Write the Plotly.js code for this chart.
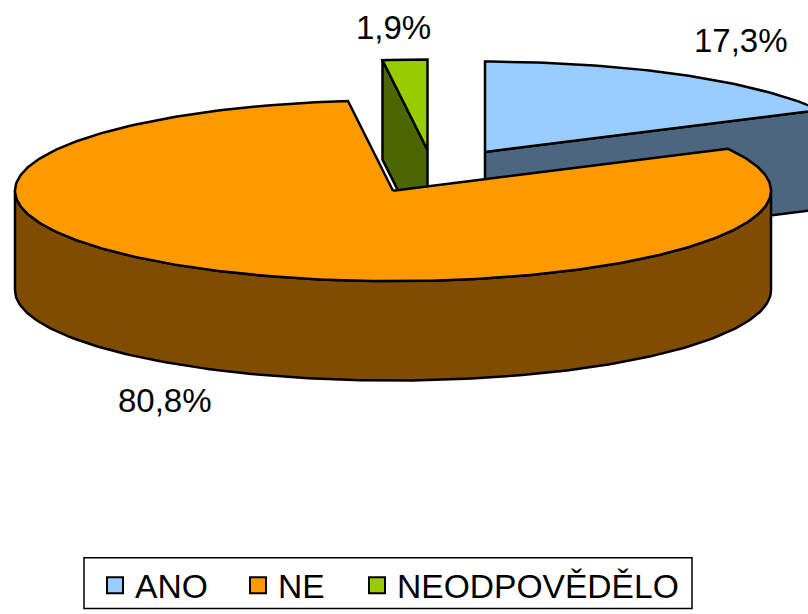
<!DOCTYPE html>
<html><head><meta charset="utf-8">
<script src="https://cdn.plot.ly/plotly-3.0.1.min.js"></script>
<style>html,body{margin:0;padding:0;background:#fff}#c{width:808px;height:614px}</style>
</head><body><div id="c"></div>
<script>
// Data
const categories = ["ANO", "NE", "NEODPOVĚDĚLO"];
const shares = [17.3, 80.8, 1.9];
// Styles
const topColors = ["#99CCFF", "#FF9900", "#99CC00"];
const wallColors = ["#4D6680", "#804D00", "#4D6600"];
// Projection of the tilted pie, in axis units (the axes span the 808x614 page)
const RX = 378, RY = 91, DEPTH = 100;
const centreX = [485, 393, 427.5];
const centreY = [153, 192, 151];
const labelX = [741, 165, 393];
const labelY = [41, 403, 28];
const legendX = [95, 238, 357];
const drawOrder = [0, 2, 1];

const total = shares.reduce((a, b) => a + b, 0);
const rad = d => d * Math.PI / 180;
let run = 0;
const spans = shares.map(v => { const a0 = run; run += v / total * 360; return [a0, run]; });

function rim(i, a, dz) {
  return [centreX[i] + RX * Math.sin(rad(a)), centreY[i] - RY * Math.cos(rad(a)) + dz];
}
function arc(i, a0, a1, dz) {
  const pts = [], n = Math.max(2, Math.ceil(Math.abs(a1 - a0)));
  for (let k = 0; k <= n; k++) pts.push(rim(i, a0 + (a1 - a0) * k / n, dz));
  return pts;
}
function poly(pts, fill) {
  const xs = pts.map(p => p[0]), ys = pts.map(p => p[1]);
  xs.push(xs[0]); ys.push(ys[0]);
  return {type: "scatter", mode: "lines", x: xs, y: ys, fill: "toself", fillcolor: fill,
    line: {color: "#000", width: 2.5, shape: "linear"}, showlegend: false, hoverinfo: "skip"};
}
function cutFace(i, a) {
  const apex = [centreX[i], centreY[i]], o = rim(i, a, 0);
  return poly([apex, o, [o[0], o[1] + DEPTH], [apex[0], apex[1] + DEPTH]], wallColors[i]);
}

const traces = [];
drawOrder.forEach(i => {
  const [a0, a1] = spans[i];
  if (Math.sin(rad(a1)) > 1e-6) traces.push(cutFace(i, a1));
  if (Math.sin(rad(a0)) < -1e-6) traces.push(cutFace(i, a0));
  const w0 = Math.max(a0, 90), w1 = Math.min(a1, 270);
  if (w1 > w0) traces.push(poly(arc(i, w0, w1, 0).concat(arc(i, w1, w0, DEPTH)), wallColors[i]));
  traces.push(poly([[centreX[i], centreY[i]]].concat(arc(i, a0, a1, 0)), topColors[i]));
});
categories.forEach((name, i) => traces.push({
  type: "scatter", mode: "markers", name: name, x: [-50], y: [-50], hoverinfo: "skip",
  legend: i === 0 ? "legend" : "legend" + (i + 1),
  marker: {symbol: "square", size: 19, color: topColors[i], line: {color: "#000", width: 2}}
}));

const annotations = shares.map((v, i) => ({
  xref: "x", yref: "y", x: labelX[i], y: labelY[i], showarrow: false,
  text: v.toFixed(1).replace(".", ",") + "%",
  font: {family: "Liberation Sans, Arial, sans-serif", size: 33, color: "#000"}
}));

const legendStyle = i => ({
  orientation: "h", x: legendX[i] / 808, xanchor: "left", y: 1 - 561 / 614, yanchor: "top",
  bgcolor: "rgba(0,0,0,0)", borderwidth: 0, itemsizing: "trace", itemwidth: 30,
  font: {family: "Liberation Sans, Arial, sans-serif", size: 33.6, color: "#000"}
});

const layout = {
  width: 808, height: 614, margin: {l: 0, r: 0, t: 0, b: 0},
  paper_bgcolor: "#fff", plot_bgcolor: "#fff", showlegend: true, hovermode: false,
  xaxis: {range: [0, 808], visible: false, fixedrange: true},
  yaxis: {range: [614, 0], visible: false, fixedrange: true},
  annotations: annotations,
  shapes: [{type: "rect", xref: "x", yref: "y", x0: 84, x1: 692, y0: 561.5, y1: 612.5,
    line: {color: "#000", width: 1.5}, fillcolor: "#fff", layer: "above"}],
  legend: legendStyle(0), legend2: legendStyle(1), legend3: legendStyle(2)
};
Plotly.newPlot("c", traces, layout, {displayModeBar: false, staticPlot: true});
</script></body></html>
